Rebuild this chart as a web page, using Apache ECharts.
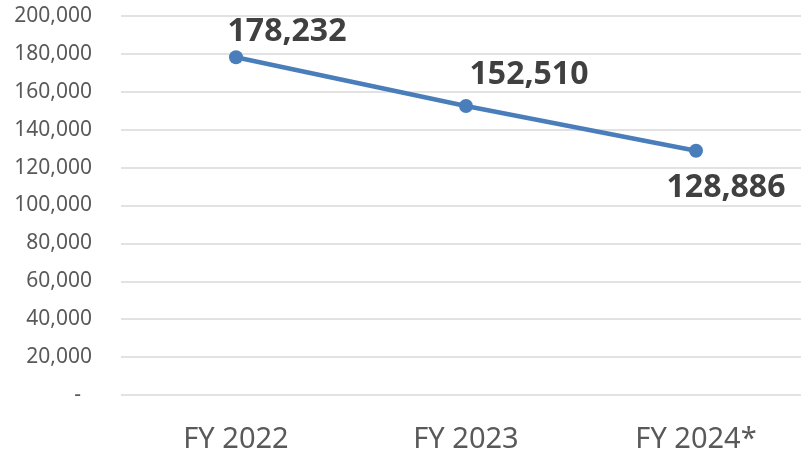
<!DOCTYPE html>
<html>
<head>
<meta charset="utf-8">
<script src="https://cdn.jsdelivr.net/npm/echarts@6/dist/echarts.min.js"></script>
<style>html,body{margin:0;padding:0;background:#fff;overflow:hidden}#c{width:811px;height:454px}</style>
</head>
<body>
<div id="c"></div>
<script>
const categories = ['FY 2022', 'FY 2023', 'FY 2024*'];
const values = [178232, 152510, 128886];
const labelOffsets = [[51, -25], [63, -31], [30, 37]];

const chart = echarts.init(document.getElementById('c'), null, {renderer: 'canvas'});
chart.setOption({
  animation: false,
  grid: {left: 121, right: 0, top: 16, bottom: 59, containLabel: false},
  xAxis: {
    type: 'category',
    data: categories,
    boundaryGap: true,
    axisLine: {show: false},
    axisTick: {show: false},
    axisLabel: {color: '#595959', fontFamily: 'Noto Sans', fontSize: 29, margin: 30}
  },
  yAxis: {
    type: 'value',
    min: 0, max: 200000, interval: 20000,
    axisLine: {show: false},
    axisTick: {show: false},
    splitLine: {lineStyle: {color: '#d9d9d9', width: 1.5}},
    axisLabel: {
      color: '#595959', fontFamily: 'Noto Sans', fontSize: 21, margin: 29,
      formatter: v => v === 0 ? '-  ' : v.toLocaleString('en-US')
    }
  },
  series: [{
    type: 'line',
    data: values.map((v, i) => ({
      value: v,
      label: {offset: labelOffsets[i]}
    })),
    lineStyle: {color: '#4a7ebb', width: 4.5},
    itemStyle: {color: '#4a7ebb'},
    symbol: 'circle',
    symbolSize: 14,
    label: {
      show: true,
      position: 'inside',
      color: '#404040',
      fontFamily: 'Noto Sans',
      fontWeight: 'bold',
      fontSize: 32,
      formatter: p => p.value.toLocaleString('en-US')
    }
  }]
});
</script>
</body>
</html>
